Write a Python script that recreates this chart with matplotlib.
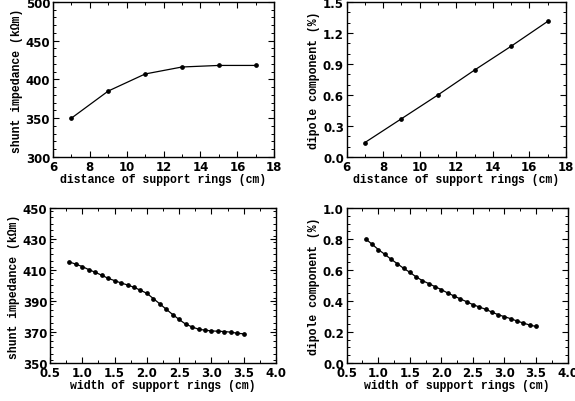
import numpy as np
import matplotlib
matplotlib.use('Agg')
import matplotlib.pyplot as plt
from matplotlib.ticker import MultipleLocator

# data
dist = [7, 9, 11, 13, 15, 17]
shunt_dist = [350, 385, 407, 416, 418, 418]
dipole_dist = [0.14, 0.37, 0.60, 0.84, 1.07, 1.31]

width = [0.8, 0.9, 1.0, 1.1, 1.2, 1.3, 1.4, 1.5, 1.6, 1.7, 1.8, 1.9, 2.0, 2.1,
         2.2, 2.3, 2.4, 2.5, 2.6, 2.7, 2.8, 2.9, 3.0, 3.1, 3.2, 3.3, 3.4, 3.5]
shunt_width = [415.2, 413.7, 412.2, 410.2, 408.5, 406.6, 404.6, 403.1, 401.6,
               400.3, 398.8, 396.9, 394.9, 391.5, 388.1, 384.6, 381.2, 378.0,
               375.0, 373.2, 371.7, 371.1, 370.6, 370.4, 370.2, 369.8, 369.1,
               368.7]
dipole_width = [0.800, 0.767, 0.732, 0.702, 0.670, 0.641, 0.611, 0.585, 0.555,
                0.531, 0.512, 0.492, 0.473, 0.451, 0.432, 0.413, 0.395, 0.376,
                0.361, 0.346, 0.328, 0.311, 0.298, 0.285, 0.270, 0.257, 0.244,
                0.235]

tickfont = {'family': 'DejaVu Sans', 'weight': 'bold', 'size': 8.5}
labfont = {'family': 'Liberation Mono', 'weight': 'bold', 'size': 8.3}

fig = plt.figure(figsize=(5.75, 4.02), dpi=100)


def panel(rect, x, y, xlim, ylim, xmaj, xmin, ymaj, ymin, xlab, ylab, yfmt):
    ax = fig.add_axes(rect)
    ax.plot(x, y, color='black', lw=0.9, marker='o', ms=2.4)
    ax.set_xlim(*xlim)
    ax.set_ylim(*ylim)
    ax.set_xticks(np.arange(xlim[0], xlim[1] + 1e-9, xmaj))
    ax.set_yticks(np.arange(ylim[0], ylim[1] + 1e-9, ymaj))
    ax.xaxis.set_minor_locator(MultipleLocator(xmin))
    ax.yaxis.set_minor_locator(MultipleLocator(ymin))
    ax.tick_params(which='both', direction='in', top=True, right=True)
    ax.tick_params(which='major', length=4, width=0.8, pad=2)
    ax.tick_params(which='minor', length=2, width=0.7)
    ax.yaxis.set_major_formatter(plt.FormatStrFormatter(yfmt))
    ax.xaxis.set_major_formatter(plt.FormatStrFormatter('%g' if xmaj >= 1 else '%.1f'))
    for lab in ax.get_xticklabels() + ax.get_yticklabels():
        lab.set_fontproperties(matplotlib.font_manager.FontProperties(**tickfont))
    ax.set_xlabel(xlab, fontdict=labfont, labelpad=0)
    ax.set_ylabel(ylab, fontdict=labfont, labelpad=2)
    for s in ax.spines.values():
        s.set_linewidth(1.0)
    return ax


panel([0.092, 0.607, 0.385, 0.386], dist, shunt_dist, (6, 18), (300, 500),
      2, 1, 50, 10, 'distance of support rings (cm)',
      'shunt impedance (kΩm)', '%d')
panel([0.603, 0.607, 0.381, 0.386], dist, dipole_dist, (6, 18), (0, 1.5),
      2, 1, 0.3, 0.1, 'distance of support rings (cm)',
      'dipole component (%)', '%.1f')
panel([0.087, 0.095, 0.393, 0.385], width, shunt_width, (0.5, 4.0), (350, 450),
      0.5, 0.25, 20, 4, 'width of support rings (cm)',
      'shunt impedance (kΩm)', '%d')
panel([0.603, 0.095, 0.384, 0.385], width, dipole_width, (0.5, 4.0), (0, 1.0),
      0.5, 0.25, 0.2, 0.05, 'width of support rings (cm)',
      'dipole component (%)', '%.1f')

fig.savefig('out.png', dpi=100)
